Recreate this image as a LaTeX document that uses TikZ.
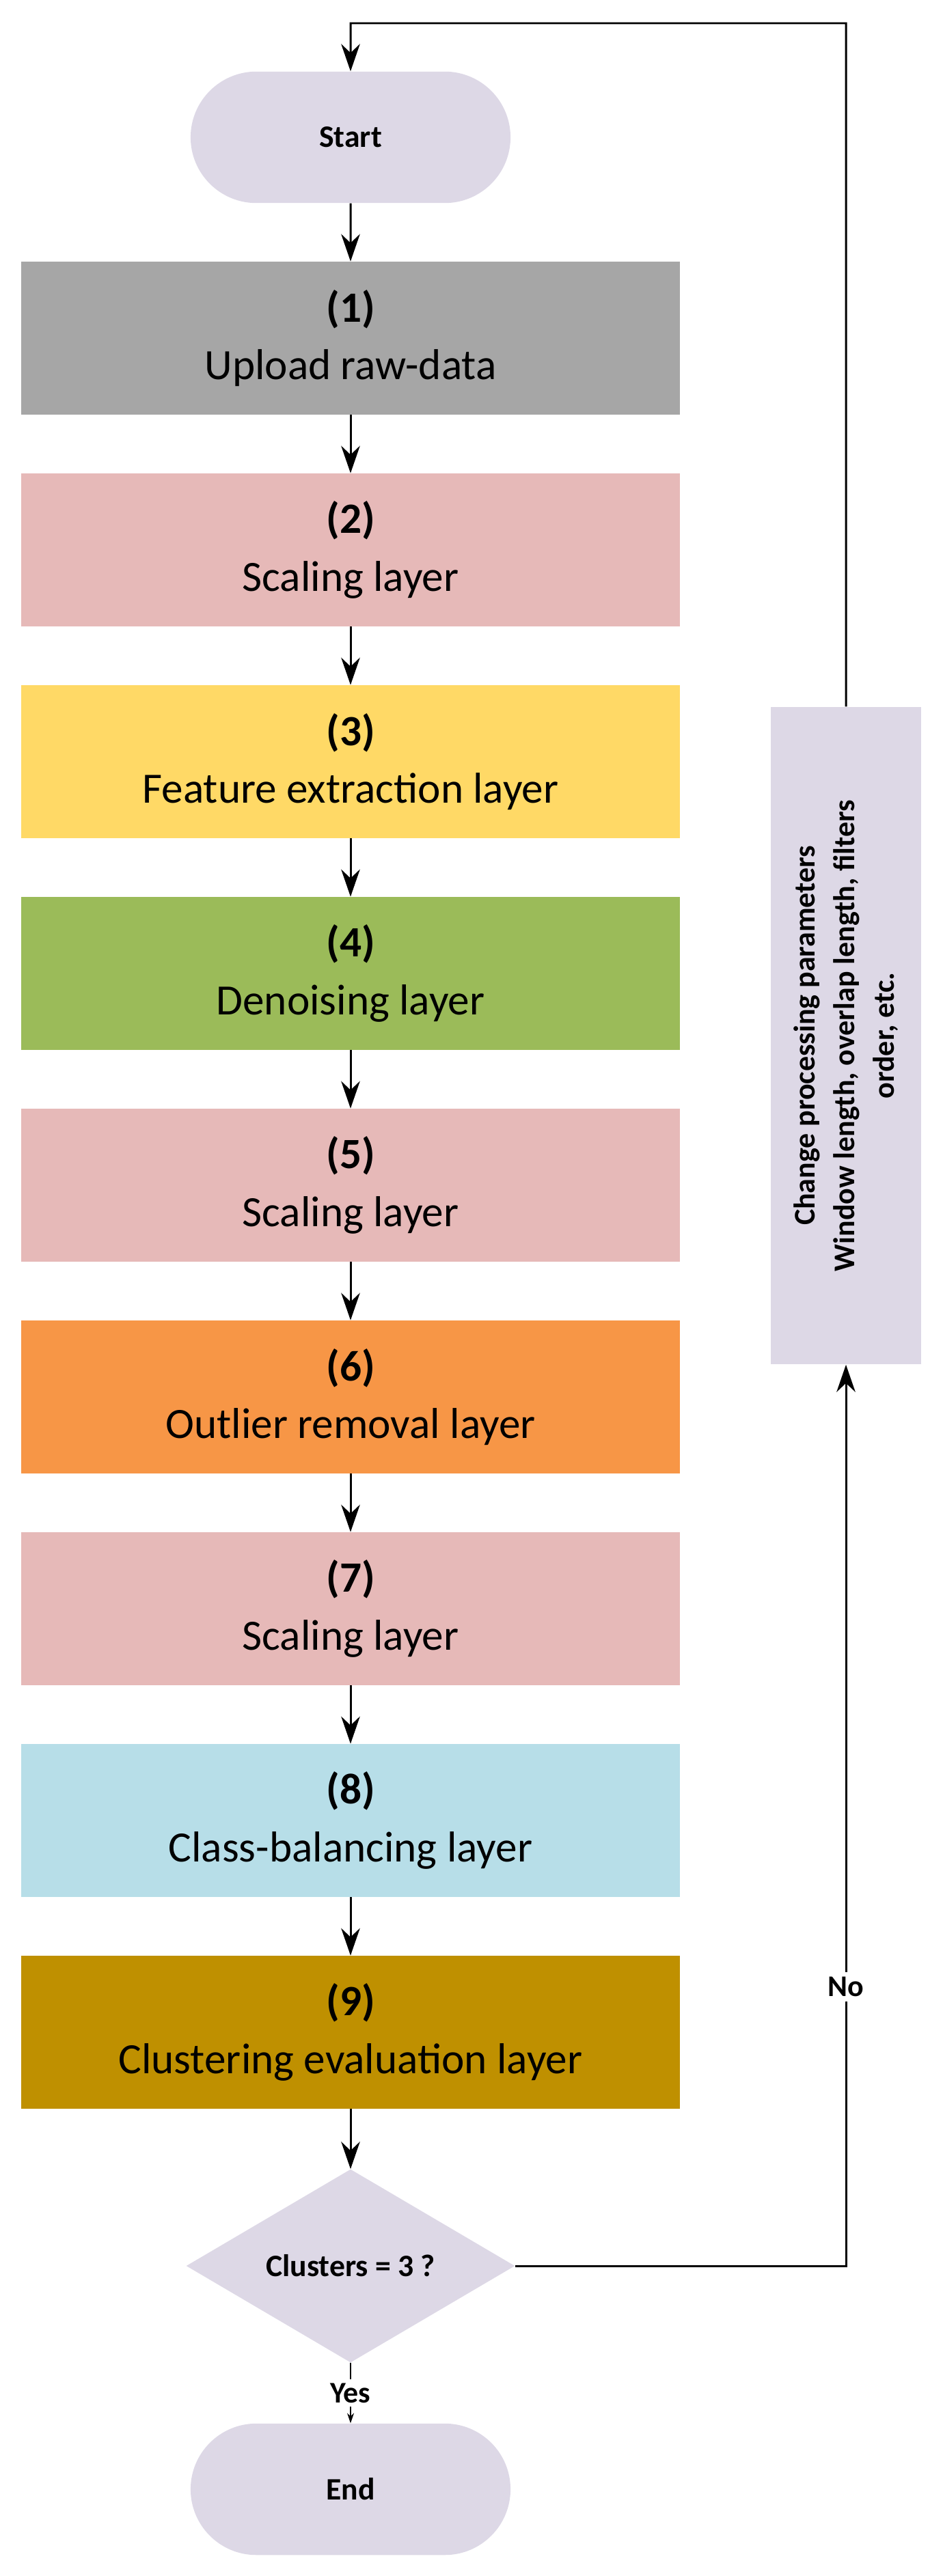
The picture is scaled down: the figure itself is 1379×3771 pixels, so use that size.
\documentclass[tikz,border=0pt]{standalone}
\usepackage{fontspec}
\setmainfont{Carlito}
\usetikzlibrary{shapes.geometric,shapes.misc,arrows.meta}
\definecolor{lav}{HTML}{DDD8E6}
\definecolor{cgray}{HTML}{A6A6A6}
\definecolor{cpink}{HTML}{E6B9B8}
\definecolor{cyel}{HTML}{FFD966}
\definecolor{cgreen}{HTML}{9BBB59}
\definecolor{corange}{HTML}{F79646}
\definecolor{cblue}{HTML}{B7DEE8}
\definecolor{cgold}{HTML}{BF9000}
\begin{document}
\begin{tikzpicture}[x=0.02cm,y=-0.02cm,
 box/.style={draw=none,minimum width=19.3cm,minimum height=4.48cm,align=center,font=\fontsize{36}{48}\selectfont,inner sep=0pt},
 term/.style={draw=none,fill=lav,rounded rectangle,minimum width=9.6cm,minimum height=3.85cm,font=\bfseries\fontsize{26}{30}\selectfont},
 arr/.style={line width=1.7pt,-{Stealth[length=0.8cm,width=0.55cm]}},
 ln/.style={line width=1.7pt}]
\useasboundingbox (0,0) rectangle (1379,3771);
\node[term] (start) at (513,201) {Start};
\foreach \i/\c/\t in {1/cgray/Upload raw-data,2/cpink/Scaling layer,3/cyel/Feature extraction layer,4/cgreen/Denoising layer,5/cpink/Scaling layer,6/corange/Outlier removal layer,7/cpink/Scaling layer,8/cblue/Class-balancing layer,9/cgold/Clustering evaluation layer}{
 \node[box,fill=\c] (b\i) at (513,{495+310*(\i-1)}) {\textbf{(\i)}\\\t};
}
\node[diamond,fill=lav,minimum width=9.62cm,minimum height=5.66cm,inner sep=0pt,aspect=1.7,font=\bfseries\fontsize{26}{30}\selectfont] (d) at (513,3317) {Clusters = 3 ?};
\node[term] (end) at (513,3644) {End};
\node[fill=lav,minimum width=4.42cm,minimum height=19.26cm,inner sep=0pt] (side) at (1238,1516) {};
\node[rotate=90,align=center,font=\bfseries\fontsize{25}{33}\selectfont] at (side.center) {Change processing parameters\\Window length, overlap length, filters\\order, etc.};
\coordinate (tl) at (513,34);
\coordinate (tr) at (1238,34);
\coordinate (dr) at (1238,3317);
\draw[arr] (start) -- (b1);
\foreach \i [evaluate=\i as \j using int(\i+1)] in {1,...,8}{\draw[arr] (b\i) -- (b\j);}
\draw[arr] (b9) -- (d.north);
\draw[line width=1pt,-{Stealth[length=0.3cm,width=0.2cm]}] (d.south) -- node[fill=white,inner sep=3pt,font=\bfseries\fontsize{25}{30}\selectfont]{Yes} (end);
\draw[arr] (d.east) -- (dr) -- node[pos=0.31,fill=white,inner sep=4pt,font=\bfseries\fontsize{25}{30}\selectfont]{No} (side.south);
\draw[arr] (side.north) -- (tr) -- (tl) -- (start);
\end{tikzpicture}
\end{document}
